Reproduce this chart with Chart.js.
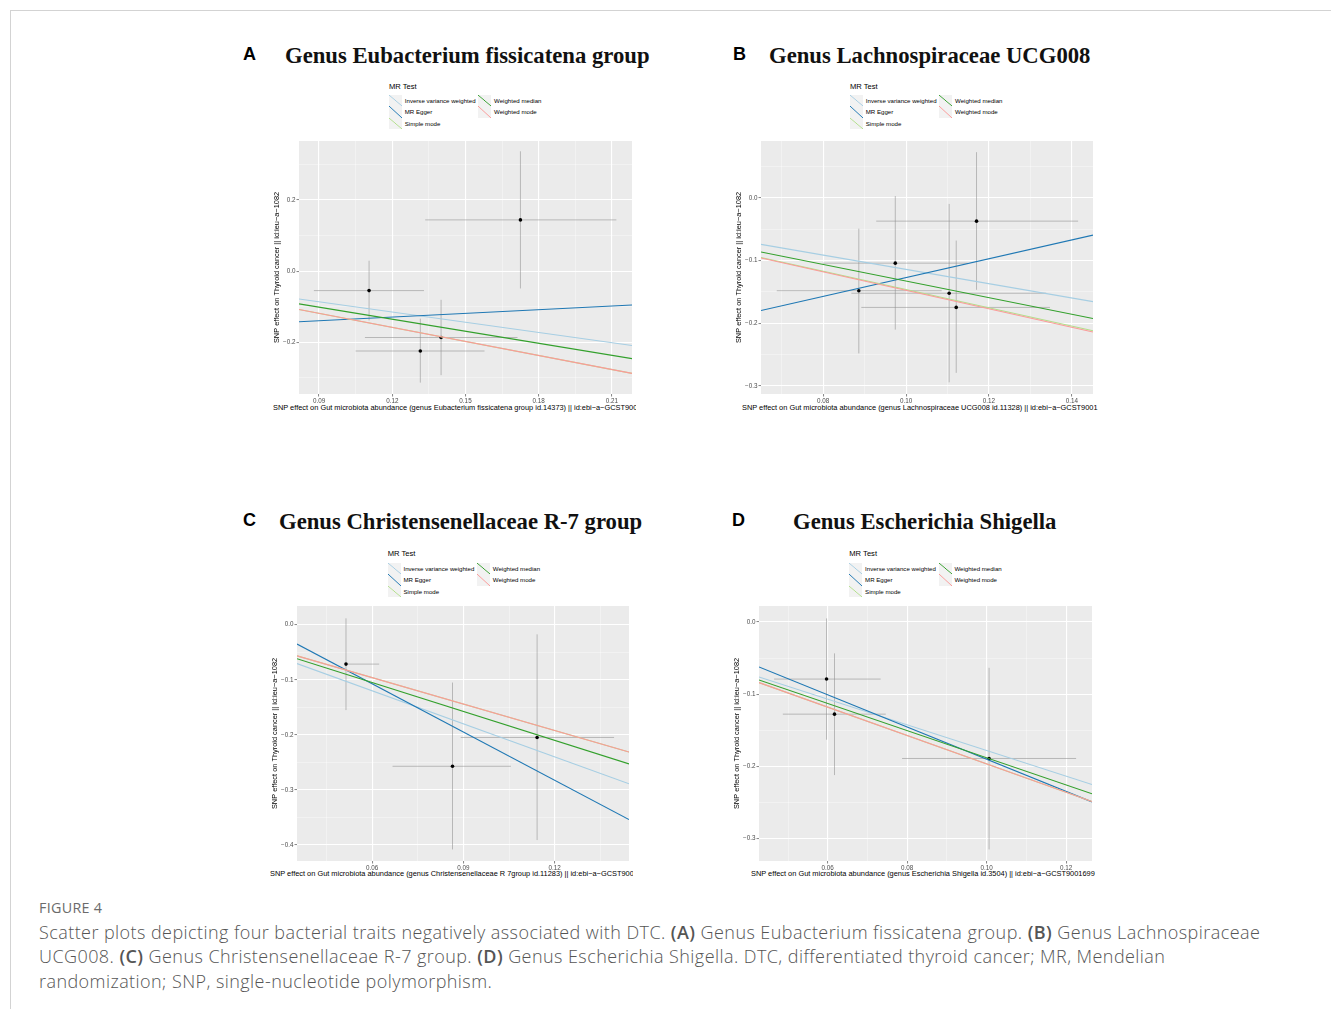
<!DOCTYPE html>
<html>
<head>
<meta charset="utf-8">
<script src="https://cdn.jsdelivr.net/npm/chart.js@4.4.1/dist/chart.umd.min.js"></script>
<style>
  body { margin: 0; background: #fff; width: 1331px; height: 1009px; position: relative; overflow: hidden; font-family: "Liberation Sans", Arial, sans-serif; }
  .card { position: absolute; left: 10px; top: 10px; width: 1340px; height: 1020px; border-left: 1px solid #d3d3d3; border-top: 1px solid #d3d3d3; }
  .letter { position: absolute; font: bold 18px/18px "Liberation Sans", Arial, sans-serif; color: #000; }
  .ptitle { position: absolute; font: bold 22.7px/22px "Liberation Serif", "Times New Roman", serif; color: #111; white-space: nowrap; }
  .box { position: absolute; }
  .xt { position: absolute; font-size: 7.4px; line-height: 8px; white-space: nowrap; overflow: hidden; color: #000; }
  .legend { position: absolute; width: 200px; height: 50px; color: #000; }
  .legend .lt { position: absolute; left: 0; top: 0; font-size: 7.6px; line-height: 8px; white-space: nowrap; }
  .legend .key { position: absolute; width: 13px; height: 11.5px; }
  .legend .lab { position: absolute; font-size: 6.1px; line-height: 11.5px; white-space: nowrap; }
  .figlab { position: absolute; left: 39px; top: 900px; font: 14.3px/16px "Open Sans", sans-serif; color: #6b6b6b; letter-spacing: 0.3px; }
  .caption { position: absolute; left: 39px; top: 919.5px; font: 300 18px/24.5px "Open Sans", sans-serif; color: #555; white-space: nowrap; letter-spacing: 0.43px; }
  .caption b { font-weight: 600; }
</style>
</head>
<body>
<div class="card"></div>
<div id="root"></div>
<div class="figlab">FIGURE 4</div>
<div class="caption">Scatter plots depicting four bacterial traits negatively associated with DTC. <b>(A)</b> Genus Eubacterium fissicatena group. <b>(B)</b> Genus Lachnospiraceae<br>UCG008. <b>(C)</b> Genus Christensenellaceae R-7 group. <b>(D)</b> Genus Escherichia Shigella. DTC, differentiated thyroid cancer; MR, Mendelian<br>randomization; SNP, single-nucleotide polymorphism.</div>

<script>
// MR methods, in ggplot legend order
const methods = ['Inverse variance weighted', 'MR Egger', 'Simple mode', 'Weighted median', 'Weighted mode'];
const methodColors = ['#A6CEE3', '#1F78B4', '#B2DF8A', '#33A02C', '#FB9A99'];

const panelLetters = ['A', 'B', 'C', 'D'];
const panelTitles = [
  'Genus Eubacterium fissicatena group',
  'Genus Lachnospiraceae UCG008',
  'Genus Christensenellaceae R-7 group',
  'Genus Escherichia Shigella'
];
const xTitles = [
  'SNP effect on Gut microbiota abundance (genus Eubacterium fissicatena group id.14373) || id:ebi\u2212a\u2212GCST900',
  'SNP effect on Gut microbiota abundance (genus Lachnospiraceae UCG008 id.11328) || id:ebi\u2212a\u2212GCST9001',
  'SNP effect on Gut microbiota abundance (genus Christensenellaceae R 7group id.11283) || id:ebi\u2212a\u2212GCST900',
  'SNP effect on Gut microbiota abundance (genus Escherichia Shigella id.3504) || id:ebi\u2212a\u2212GCST9001699'
];
const yTitle = 'SNP effect on Thyroid cancer || id:ieu\u2212a\u22121082';

// A: Eubacterium fissicatena group
const aX    = [0.1105, 0.1725, 0.1400, 0.1315];
const aY    = [-0.055, 0.144, -0.187, -0.225];
const aXLo  = [0.0879, 0.1335, 0.1088, 0.1050];
const aXHi  = [0.1330, 0.2118, 0.1713, 0.1578];
const aYLo  = [-0.139, -0.049, -0.293, -0.314];
const aYHi  = [0.029, 0.337, -0.081, -0.134];
const aSlope = [-0.96, 0.346, -1.32, -1.13, -1.32];
const aIntercept = [0, -0.171, 0, 0, 0];

// B: Lachnospiraceae UCG008
const bX    = [0.0886, 0.0974, 0.1104, 0.1121, 0.1170];
const bY    = [-0.148, -0.104, -0.152, -0.1746, -0.037];
const bXLo  = [0.0688, 0.0799, 0.0868, 0.0892, 0.0928];
const bXHi  = [0.1086, 0.1149, 0.1338, 0.1347, 0.1415];
const bYLo  = [-0.248, -0.210, -0.294, -0.279, -0.1465];
const bYHi  = [-0.049, 0.003, -0.0096, -0.068, 0.073];
const bSlope = [-1.14, 1.50, -1.46, -1.326, -1.473];
const bIntercept = [0, -0.277, 0, 0, 0];

// C: Christensenellaceae R-7 group
const cX    = [0.0514, 0.0864, 0.1142];
const cY    = [-0.0715, -0.257, -0.2047];
const cXLo  = [0.0514, 0.0667, 0.0891];
const cXHi  = [0.0623, 0.1056, 0.1395];
const cYLo  = [-0.155, -0.408, -0.391];
const cYHi  = [0.0116, -0.105, -0.0175];
const cSlope = [-2.0, -2.92, -1.60, -1.75, -1.60];
const cIntercept = [0, 0.068, 0, 0, 0];

// D: Escherichia Shigella
const dX    = [0.0597, 0.0617, 0.1006];
const dY    = [-0.079, -0.1276, -0.189];
const dXLo  = [0.0465, 0.0487, 0.0787];
const dXHi  = [0.0733, 0.0746, 0.1225];
const dYLo  = [-0.163, -0.212, -0.315];
const dYHi  = [0.005, -0.0434, -0.0634];
const dSlope = [-1.78, -2.23, -1.965, -1.88, -1.965];
const dIntercept = [0, 0.033, 0, 0, 0];

// panel layout: plot area box, axis limits and tick steps
const panels = [
  { x: aX, y: aY, xlo: aXLo, xhi: aXHi, ylo: aYLo, yhi: aYHi, slope: aSlope, icpt: aIntercept,
    plot: [299, 141, 333, 253], xr: [0.0818, 0.2182], yr: [-0.346, 0.366], xs: [0.03, 0.015], ys: [0.2, 0.1],
    letter: [243, 45], title: [285, 45], legend: [389, 82.7], xt: [273, 404, 363] },
  { x: bX, y: bY, xlo: bXLo, xhi: bXHi, ylo: bYLo, yhi: bYHi, slope: bSlope, icpt: bIntercept,
    plot: [761, 141, 332, 253], xr: [0.065, 0.1451], yr: [-0.3127, 0.0908], xs: [0.02, 0.01], ys: [0.1, 0.05],
    letter: [733, 45], title: [769, 45], legend: [850, 82.7], xt: [742, 404, 380] },
  { x: cX, y: cY, xlo: cXLo, xhi: cXHi, ylo: cYLo, yhi: cYHi, slope: cSlope, icpt: cIntercept,
    plot: [297, 606, 332, 255], xr: [0.0353, 0.1444], yr: [-0.429, 0.034], xs: [0.03, 0.015], ys: [0.1, 0.05],
    letter: [243, 511], title: [279, 511], legend: [387.7, 550.3], xt: [270, 870, 363] },
  { x: dX, y: dY, xlo: dXLo, xhi: dXHi, ylo: dYLo, yhi: dYHi, slope: dSlope, icpt: dIntercept,
    plot: [759, 606, 333, 255], xr: [0.0427, 0.1265], yr: [-0.331, 0.0222], xs: [0.02, 0.01], ys: [0.1, 0.05],
    letter: [732, 511], title: [793, 511], legend: [849.3, 550.3], xt: [751, 870, 380] }
];

const panelBg = {
  id: 'panelBg',
  beforeDraw(chart) {
    const { ctx, chartArea: a } = chart;
    ctx.save();
    ctx.fillStyle = '#EBEBEB';
    ctx.fillRect(a.left, a.top, a.width, a.height);
    ctx.restore();
  }
};

const isMajor = (v, step) => Math.abs(v / step - Math.round(v / step)) < 1e-6;
const fmt = (v, d) => (Math.abs(v) < 1e-9 ? 0 : v).toFixed(d).replace('-', '\u2212');

function axis(range, steps, decimals, extra) {
  return Object.assign({
    type: 'linear', min: range[0], max: range[1],
    border: { display: false },
    grid: {
      color: c => isMajor(c.tick.value, steps[0]) ? '#FFFFFF' : 'rgba(255,255,255,0.75)',
      lineWidth: c => isMajor(c.tick.value, steps[0]) ? 1.1 : 0.5,
      tickColor: c => isMajor(c.tick.value, steps[0]) ? '#333333' : 'rgba(0,0,0,0)',
      tickWidth: 0.6, tickLength: 2.5
    },
    ticks: {
      stepSize: steps[1], includeBounds: false, autoSkip: false, maxRotation: 0, padding: 1,
      color: '#4D4D4D', font: { size: 6.3, family: '"Liberation Sans", Arial, sans-serif' },
      callback: v => isMajor(v, steps[0]) ? fmt(v, decimals) : ''
    }
  }, extra);
}

const root = document.getElementById('root');

function addDiv(cls, left, top, text) {
  const el = document.createElement('div');
  el.className = cls;
  el.style.left = left + 'px';
  el.style.top = top + 'px';
  if (text !== undefined) el.textContent = text;
  root.appendChild(el);
  return el;
}

function buildLegend(left, top) {
  const lg = addDiv('legend', left, top);
  const t = document.createElement('div');
  t.className = 'lt'; t.textContent = 'MR Test';
  lg.appendChild(t);
  methods.forEach((m, i) => {
    const col = i < 3 ? 0 : 1, row = i < 3 ? i : i - 3;
    const ky = 12.3 + row * 11.5;
    const key = document.createElement('div');
    key.className = 'key';
    key.style.left = (col * 89.3) + 'px';
    key.style.top = ky + 'px';
    key.style.background = 'linear-gradient(to top right, rgba(0,0,0,0) calc(50% - 0.7px), ' + methodColors[i] +
      ' 50%, rgba(0,0,0,0) calc(50% + 0.7px)), #F2F2F2';
    lg.appendChild(key);
    const lab = document.createElement('div');
    lab.className = 'lab';
    lab.style.left = (col * 89.3 + 15.8) + 'px';
    lab.style.top = ky + 'px';
    lab.textContent = m;
    lg.appendChild(lab);
  });
}

panels.forEach((p, k) => {
  addDiv('letter', p.letter[0], p.letter[1], panelLetters[k]);
  addDiv('ptitle', p.title[0], p.title[1], panelTitles[k]);
  buildLegend(p.legend[0], p.legend[1]);
  const xt = addDiv('xt', p.xt[0], p.xt[1], xTitles[k]);
  xt.style.width = p.xt[2] + 'px';

  const [pl, pt, pw, ph] = p.plot;
  const yw = 30, padT = 5, padR = 8, xh = 10;
  const box = addDiv('box', pl - yw, pt - padT);
  box.style.width = (pw + yw + padR) + 'px';
  box.style.height = (ph + padT + xh) + 'px';
  const cv = document.createElement('canvas');
  box.appendChild(cv);

  const datasets = [];
  p.x.forEach((xv, i) => {
    datasets.push({ data: [{ x: p.xlo[i], y: p.y[i] }, { x: p.xhi[i], y: p.y[i] }], showLine: true,
      borderColor: 'rgba(140,140,140,0.55)', borderWidth: 1, pointRadius: 0, order: 30 });
    datasets.push({ data: [{ x: xv, y: p.ylo[i] }, { x: xv, y: p.yhi[i] }], showLine: true,
      borderColor: 'rgba(140,140,140,0.55)', borderWidth: 1, pointRadius: 0, order: 30 });
  });
  datasets.push({ data: p.x.map((xv, i) => ({ x: xv, y: p.y[i] })), pointRadius: 1.8,
    pointBackgroundColor: '#000', pointBorderWidth: 0, order: 20 });
  methods.forEach((m, i) => {
    datasets.push({ label: m, showLine: true, borderColor: methodColors[i], borderWidth: 1.1, pointRadius: 0,
      order: 4 - i,
      data: p.xr.map(xv => ({ x: xv, y: p.icpt[i] + p.slope[i] * xv })) });
  });

  new Chart(cv, {
    type: 'scatter',
    data: { datasets },
    options: {
      responsive: true, maintainAspectRatio: false, animation: false, events: [],
      layout: { padding: { top: padT, right: padR, left: 0, bottom: 0 } },
      plugins: { legend: { display: false }, tooltip: { enabled: false } },
      scales: {
        x: axis(p.xr, p.xs, 2, { afterFit: s => { s.height = xh; } }),
        y: axis(p.yr, p.ys, 1, {
          afterFit: s => { s.width = yw; },
          title: { display: true, text: yTitle, color: '#000', padding: { top: 3.5, bottom: 0 },
            font: { size: 7.4, family: '"Liberation Sans", Arial, sans-serif' } }
        })
      }
    },
    plugins: [panelBg]
  });
});
</script>
</body>
</html>
